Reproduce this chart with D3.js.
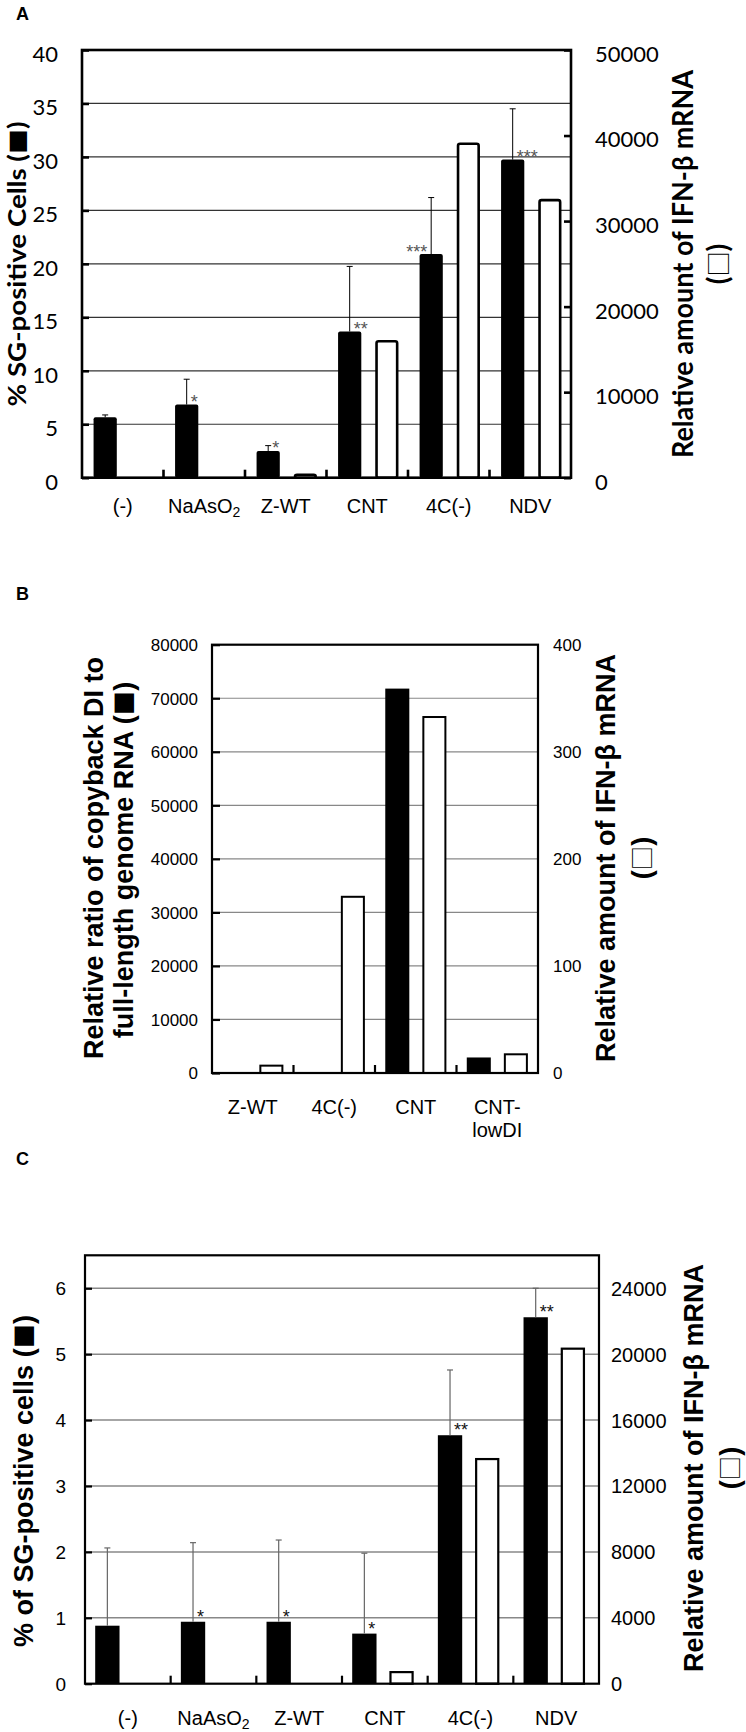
<!DOCTYPE html>
<html>
<head>
<meta charset="utf-8">
<script src="https://cdn.jsdelivr.net/npm/d3@7"></script>
<style>
body { margin: 0; background: #fff; }
svg { display: block; }
</style>
</head>
<body>
<svg id="fig" width="746" height="1732"></svg>
<script>
// ---- panel A data
const catsA = ['(-)', 'NaAsO2', 'Z-WT', 'CNT', '4C(-)', 'NDV'];
const sgA = [5.65, 6.84, 2.5, 13.67, 20.92, 29.75];
const sgSdA = [0.22, 2.37, 0.5, 6.09, 5.28, 4.75];
const ifnA = [null, null, 500, 16100, 39200, 32600];
const starsA = ['', '*', '*', '**', '***', '***'];
const starSideA = ['r', 'r', 'r', 'r', 'l', 'r'];
const ticksLA = [0, 5, 10, 15, 20, 25, 30, 35, 40];
const ticksRA = [0, 10000, 20000, 30000, 40000, 50000];

// ---- panel B data
const catsB = ['Z-WT', '4C(-)', 'CNT', 'CNT-\nlowDI'];
const diB = [null, null, 71800, 2900];
const ifnB = [7.8, 165.5, 333.4, 18.4];
const ticksLB = [0, 10000, 20000, 30000, 40000, 50000, 60000, 70000, 80000];
const ticksRB = [0, 100, 200, 300, 400];

// ---- panel C data
const catsC = ['(-)', 'NaAsO2', 'Z-WT', 'CNT', '4C(-)', 'NDV'];
const sgC = [0.88, 0.94, 0.94, 0.76, 3.77, 5.56];
const sgSdC = [1.18, 1.20, 1.24, 1.22, 0.99, 0.44];
const ifnC = [null, null, null, 770, 13700, 20400];
const starsC = ['', '*', '*', '*', '**', '**'];
const starSideC = ['r', 'r', 'r', 'r', 'r', 'r'];
const ticksLC = [0, 1, 2, 3, 4, 5, 6];
const ticksRC = [0, 4000, 8000, 12000, 16000, 20000, 24000];

const svg = d3.select('#fig');
const ARIAL = "'Liberation Sans', Arial, sans-serif";
const CALIB = "Lato, 'Open Sans', sans-serif";
const SQUARE = "'Noto Sans CJK JP', 'DejaVu Sans', sans-serif";

function addLabel(sel, label, x, y) {
  let lines = label.split('\n');
  lines.forEach((ln, i) => {
    let t = sel.append('text')
      .attr('x', x)
      .attr('y', y + i * 23)
      .attr('text-anchor', 'middle');
    let m = ln.match(/^(.*O)(2)$/);
    if (m) {
      t.append('tspan').text(m[1]);
      t.append('tspan').attr('font-size', '0.7em').attr('dy', 4).text(m[2]);
    } else {
      t.text(ln);
    }
  });
}

function drawPanel(p) {
  let g = svg.append('g');
  let x = d3.scaleBand().domain(p.cats).range([p.left, p.right]);
  let yL = d3.scaleLinear().domain([0, p.maxL]).range([p.bottom, p.top]);
  let yR = d3.scaleLinear().domain([0, p.maxR]).range([p.bottom, p.top]);
  let bw = x.bandwidth();

  // gridlines
  g.append('g').selectAll('line')
    .data(p.ticksL.filter(t => t > 0 && yL(t) > p.top + 1))
    .join('line')
    .attr('x1', p.left).attr('x2', p.right)
    .attr('y1', d => yL(d)).attr('y2', d => yL(d))
    .attr('stroke', p.gridColor)
    .attr('stroke-width', p.gridWidth);

  let rows = p.cats.map((c, i) => ({
    c: c, b: p.black[i], sd: p.sd ? p.sd[i] : null, w: p.white[i],
    star: p.stars ? p.stars[i] : '', side: p.starSide ? p.starSide[i] : 'r'
  }));

  // black bars
  g.append('g').selectAll('rect')
    .data(rows.filter(d => d.b != null))
    .join('rect')
    .attr('x', d => x(d.c) + p.fb * bw)
    .attr('width', p.fwid * bw)
    .attr('y', d => yL(d.b))
    .attr('height', d => p.bottom - yL(d.b))
    .attr('rx', p.rx)
    .attr('fill', '#000');

  // white bars
  let s = p.whiteStroke;
  g.append('g').selectAll('rect')
    .data(rows.filter(d => d.w != null))
    .join('rect')
    .attr('x', d => x(d.c) + p.fwh * bw + s / 2)
    .attr('width', p.fwid * bw - s)
    .attr('y', d => yR(d.w) + s / 2)
    .attr('height', d => p.bottom - yR(d.w) - s / 2)
    .attr('rx', p.rx)
    .attr('fill', '#fff')
    .attr('stroke', '#000')
    .attr('stroke-width', s);

  // error bars + stars
  let errRows = rows.filter(d => d.b != null && d.sd != null);
  let gErr = g.append('g')
    .attr('stroke', p.errColor)
    .attr('stroke-width', p.errWidth);
  errRows.forEach(d => {
    let cx = x(d.c) + (p.fb + p.fwid / 2) * bw;
    gErr.append('line')
      .attr('x1', cx).attr('x2', cx)
      .attr('y1', yL(d.b)).attr('y2', yL(d.b + d.sd));
    gErr.append('line')
      .attr('x1', cx - 3).attr('x2', cx + 3)
      .attr('y1', yL(d.b + d.sd)).attr('y2', yL(d.b + d.sd));
    if (d.star) {
      g.append('text')
        .attr('x', d.side == 'r' ? cx + 4 : cx - 4)
        .attr('y', yL(d.b) + p.starDy)
        .attr('text-anchor', d.side == 'r' ? 'start' : 'end')
        .attr('font-family', ARIAL)
        .attr('font-size', 18)
        .attr('fill', p.starColor)
        .text(d.star);
    }
  });

  // x ticks at category borders
  g.append('g').selectAll('line')
    .data(p.cats.slice(1))
    .join('line')
    .attr('x1', d => x(d)).attr('x2', d => x(d))
    .attr('y1', p.bottom).attr('y2', p.bottom - 8)
    .attr('stroke', '#000')
    .attr('stroke-width', p.frameW);

  // x labels
  let gLab = g.append('g')
    .attr('font-family', ARIAL)
    .attr('font-size', p.xFont)
    .attr('fill', '#000');
  p.cats.forEach(c => addLabel(gLab, c, x(c) + bw / 2, p.labelY));

  // y axes
  g.append('g')
    .attr('transform', `translate(${p.left},0)`)
    .call(d3.axisLeft(yL).tickValues(p.ticksL).tickSizeInner(-p.tickL).tickSizeOuter(0)
      .tickPadding(p.padL).tickFormat(d3.format('d')))
    .call(a => a.select('.domain').remove())
    .call(a => a.selectAll('line').attr('stroke-width', p.frameW))
    .call(a => a.selectAll('text').attr('dy', p.tickDy)
      .attr('font-family', p.tickFamily).attr('font-size', p.tickFontL));

  g.append('g')
    .attr('transform', `translate(${p.right},0)`)
    .call(d3.axisRight(yR).tickValues(p.ticksR).tickSizeInner(-p.tickR).tickSizeOuter(0)
      .tickPadding(p.padR).tickFormat(d3.format('d')))
    .call(a => a.select('.domain').remove())
    .call(a => a.selectAll('line').attr('stroke-width', p.frameW))
    .call(a => a.selectAll('text').attr('dy', p.tickDy)
      .attr('font-family', p.tickFamily).attr('font-size', p.tickFontR));

  // frame
  g.append('rect')
    .attr('x', p.left).attr('y', p.top)
    .attr('width', p.right - p.left).attr('height', p.bottom - p.top)
    .attr('fill', 'none')
    .attr('stroke', '#000')
    .attr('stroke-width', p.frameW);
}

// rotated axis title; the square legend glyphs get a font where they are full size
function vtext(x, y, text, size, family, len) {
  let t = svg.append('text')
    .attr('transform', `translate(${x},${y}) rotate(-90)`)
    .attr('text-anchor', 'middle')
    .attr('font-family', family)
    .attr('font-weight', 'bold')
    .attr('font-size', size);
  text.split(/([\u25A0\u25A1])/).forEach(part => {
    if (!part) return;
    let ts = t.append('tspan').text(part);
    if (/[\u25A0\u25A1]/.test(part)) {
      ts.attr('font-family', SQUARE).attr('font-weight', 'normal').attr('font-size', '0.9em');
    }
  });
  if (len) t.attr('textLength', len).attr('lengthAdjust', 'spacingAndGlyphs');
  return t;
}

function panelLetter(x, y, s) {
  svg.append('text')
    .attr('x', x).attr('y', y)
    .attr('font-family', ARIAL)
    .attr('font-weight', 'bold')
    .attr('font-size', 18)
    .text(s);
}

// ---------- A
drawPanel({
  cats: catsA, black: sgA, sd: sgSdA, white: ifnA, stars: starsA, starSide: starSideA,
  left: 82, right: 571, top: 50, bottom: 477.7,
  maxL: 40, maxR: 50000, ticksL: ticksLA, ticksR: ticksRA,
  fb: 0.142, fwh: 0.598, fwid: 0.285, rx: 2, whiteStroke: 2.6,
  gridColor: '#333', gridWidth: 1.2, errColor: '#000', errWidth: 1,
  starColor: '#555', starDy: 3.5,
  frameW: 2.6, tickL: 7, tickR: 7, padL: 24, padR: 24,
  tickFamily: CALIB, tickFontL: 22, tickFontR: 22, tickDy: '0.52em',
  xFont: 20, labelY: 513
});
panelLetter(16, 20, 'A');
vtext(26, 264, '% SG-positive Cells (\u25A0)', 24, CALIB, 285);
vtext(693, 264, 'Relative amount of IFN-\u03B2 mRNA', 28, CALIB, 388);
vtext(728, 264, '(\u25A1)', 28, CALIB);

// ---------- B
drawPanel({
  cats: catsB, black: diB, sd: null, white: ifnB, stars: null, starSide: null,
  left: 212, right: 538, top: 644.7, bottom: 1073,
  maxL: 80000, maxR: 400, ticksL: ticksLB, ticksR: ticksRB,
  fb: 0.126, fwh: 0.581, fwid: 0.295, rx: 0, whiteStroke: 2,
  gridColor: '#888', gridWidth: 1.2, errColor: '#000', errWidth: 1,
  starColor: '#000', starDy: 0,
  frameW: 2.2, tickL: 8, tickR: 0, padL: 14, padR: 15,
  tickFamily: ARIAL, tickFontL: 17, tickFontR: 17, tickDy: '0.35em',
  xFont: 20, labelY: 1114
});
panelLetter(16, 600, 'B');
vtext(103, 858, 'Relative ratio of copyback DI to', 27, ARIAL);
vtext(133, 860, 'full-length genome RNA (\u25A0)', 27, ARIAL);
vtext(615, 858, 'Relative amount of IFN-\u03B2 mRNA', 27, ARIAL);
vtext(651, 858, '(\u25A1)', 27, ARIAL);

// ---------- C
drawPanel({
  cats: catsC, black: sgC, sd: sgSdC, white: ifnC, stars: starsC, starSide: starSideC,
  left: 85, right: 599, top: 1255.3, bottom: 1683.7,
  maxL: 6.5, maxR: 26000, ticksL: ticksLC, ticksR: ticksRC,
  fb: 0.119, fwh: 0.553, fwid: 0.284, rx: 0, whiteStroke: 2.2,
  gridColor: '#888', gridWidth: 1.5, errColor: '#666', errWidth: 1.2,
  starColor: '#111', starDy: 1,
  frameW: 2.2, tickL: 7, tickR: 0, padL: 19, padR: 12,
  tickFamily: ARIAL, tickFontL: 19, tickFontR: 20, tickDy: '0.35em',
  xFont: 20, labelY: 1725
});
panelLetter(16, 1165, 'C');
vtext(33, 1481, '% of SG-positive cells (\u25A0)', 27, ARIAL);
vtext(703, 1468, 'Relative amount of IFN-\u03B2 mRNA', 27, ARIAL);
vtext(739, 1468, '(\u25A1)', 27, ARIAL);
</script>
</body>
</html>
